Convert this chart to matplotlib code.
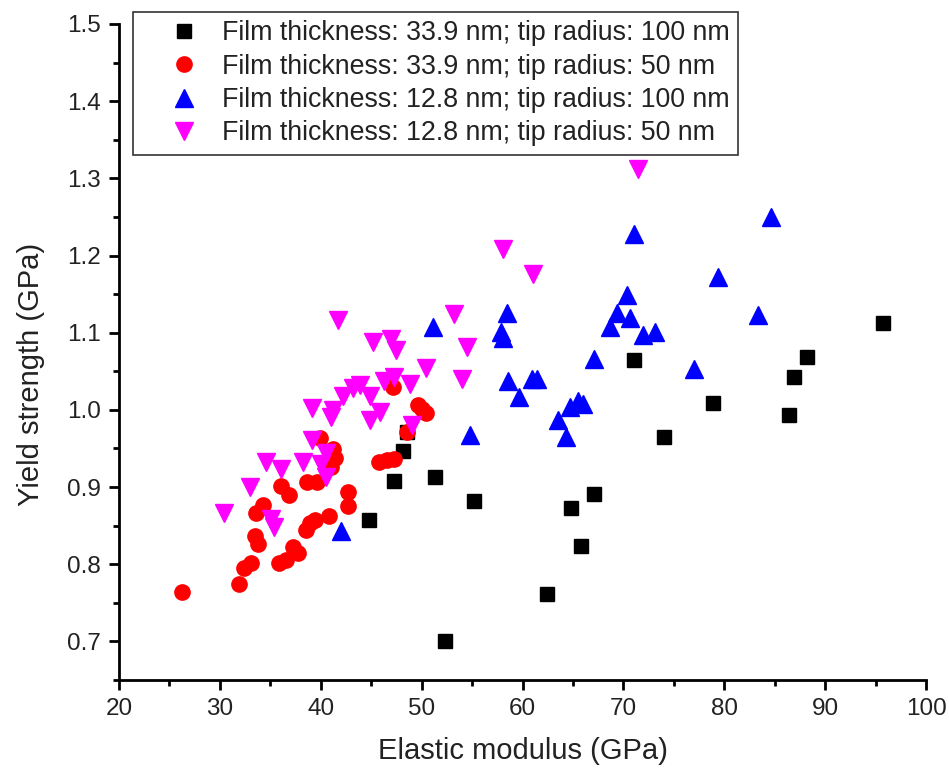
import matplotlib
matplotlib.use("Agg")
import matplotlib.pyplot as plt
from matplotlib.ticker import MultipleLocator

plt.rcParams['font.family'] = ['Liberation Sans', 'DejaVu Sans']

# Film thickness 33.9 nm, tip radius 100 nm
e_339_100 = [95.7, 88.2, 86.9, 86.4, 78.9, 74.0, 71.1, 67.1, 64.8, 65.8, 62.4, 52.3,
             55.2, 51.3, 48.2, 48.5, 47.3, 44.8]
y_339_100 = [1.113, 1.068, 1.043, 0.993, 1.009, 0.965, 1.064, 0.891, 0.873, 0.824, 0.762, 0.701,
             0.882, 0.913, 0.947, 0.971, 0.908, 0.857]

# Film thickness 33.9 nm, tip radius 50 nm
e_339_50 = [26.2, 31.9, 32.4, 33.1, 33.45, 33.8, 33.6, 34.3, 36.1, 36.9, 35.9, 36.6,
            37.25, 37.7, 38.5, 38.9, 39.4, 40.8, 38.6, 39.6, 39.9, 41.2, 41.4, 41.05,
            42.7, 42.7, 45.8, 46.6, 47.3, 47.2, 48.5, 49.6, 50.0, 50.4]
y_339_50 = [0.764, 0.774, 0.795, 0.802, 0.836, 0.826, 0.867, 0.877, 0.902, 0.890, 0.801, 0.805,
            0.822, 0.814, 0.845, 0.853, 0.857, 0.862, 0.907, 0.906, 0.964, 0.949, 0.937, 0.926,
            0.893, 0.875, 0.933, 0.935, 0.936, 1.030, 0.971, 1.006, 1.001, 0.996]

# Film thickness 12.8 nm, tip radius 100 nm
e_128_100 = [84.6, 79.4, 83.3, 73.1, 77.0, 71.1, 70.4, 69.4, 70.7, 68.7, 71.9, 67.1,
             58.5, 57.9, 58.1, 58.6, 60.9, 61.4, 59.7, 64.7, 65.5, 66.0, 63.5, 64.3,
             54.8, 51.1, 42.0]
y_128_100 = [1.250, 1.172, 1.123, 1.101, 1.053, 1.228, 1.149, 1.126, 1.119, 1.108, 1.097, 1.066,
             1.125, 1.101, 1.093, 1.037, 1.040, 1.040, 1.017, 1.004, 1.011, 1.008, 0.987, 0.965,
             0.968, 1.108, 0.843]

# Film thickness 12.8 nm, tip radius 50 nm
e_128_50 = [71.4, 58.1, 61.05, 53.2, 54.5, 54.0, 41.7, 45.2, 47.0, 47.5, 50.4, 47.3,
            46.3, 48.8, 43.9, 43.2, 44.85, 42.2, 39.1, 41.2, 41.0, 45.85, 44.85, 49.0,
            39.1, 40.55, 38.2, 40.0, 40.55, 34.6, 36.1, 32.95, 30.4, 35.1, 35.4]
y_128_50 = [1.312, 1.208, 1.176, 1.124, 1.081, 1.040, 1.117, 1.088, 1.092, 1.077, 1.054, 1.043,
            1.037, 1.034, 1.032, 1.028, 1.018, 1.018, 1.002, 1.000, 0.991, 0.997, 0.987, 0.980,
            0.961, 0.944, 0.932, 0.930, 0.913, 0.933, 0.924, 0.900, 0.867, 0.859, 0.848]

labels = [
    "Film thickness: 33.9 nm; tip radius: 100 nm",
    "Film thickness: 33.9 nm; tip radius: 50 nm",
    "Film thickness: 12.8 nm; tip radius: 100 nm",
    "Film thickness: 12.8 nm; tip radius: 50 nm",
]

fig = plt.figure(figsize=(9.49, 7.73), dpi=100)
ax = fig.add_axes([0.1254, 0.1203, 0.8504, 0.8487])

ax.plot(e_339_100, y_339_100, ls='none', marker='s', ms=10, color='#000000',
        mec='#000000', label=labels[0])
ax.plot(e_339_50, y_339_50, ls='none', marker='o', ms=11, color='#ff0000',
        mec='#ff0000', label=labels[1])
ax.plot(e_128_100, y_128_100, ls='none', marker='^', ms=12.5, color='#0000ff',
        mec='#0000ff', label=labels[2])
ax.plot(e_128_50, y_128_50, ls='none', marker='v', ms=12.5, color='#ff00ff',
        mec='#ff00ff', label=labels[3])

ax.set_xlim(20, 100)
ax.set_ylim(0.65, 1.5)
ax.xaxis.set_major_locator(MultipleLocator(10))
ax.xaxis.set_minor_locator(MultipleLocator(5))
ax.yaxis.set_major_locator(MultipleLocator(0.1))
ax.yaxis.set_minor_locator(MultipleLocator(0.05))
ax.yaxis.set_major_formatter(plt.FuncFormatter(lambda v, p: f"{v:.1f}"))

for s in ['top', 'right']:
    ax.spines[s].set_visible(False)
for s in ['left', 'bottom']:
    ax.spines[s].set_linewidth(2.0)

ax.tick_params(which='major', direction='out', length=7, width=2.0,
               labelsize=17.5, labelcolor='#222222', pad=6)
ax.tick_params(which='minor', direction='out', length=4, width=2.0)

ax.set_xlabel("Elastic modulus (GPa)", fontsize=21, color='#222222', labelpad=12)
ax.set_ylabel("Yield strength (GPa)", fontsize=21, color='#222222')
ax.yaxis.set_label_coords(-0.092, 0.466)

leg = ax.legend(loc='upper left', bbox_to_anchor=(0.140, 0.985),
                bbox_transform=fig.transFigure, fontsize=19.3, frameon=True,
                fancybox=False, shadow=False, borderpad=0.33, labelspacing=0.27,
                handletextpad=-0.19, handlelength=3.18, borderaxespad=0)
leg.get_frame().set_edgecolor('#000000')
leg.get_frame().set_linewidth(1.2)
for t in leg.get_texts():
    t.set_color('#222222')

fig.savefig("out.png", dpi=100)
